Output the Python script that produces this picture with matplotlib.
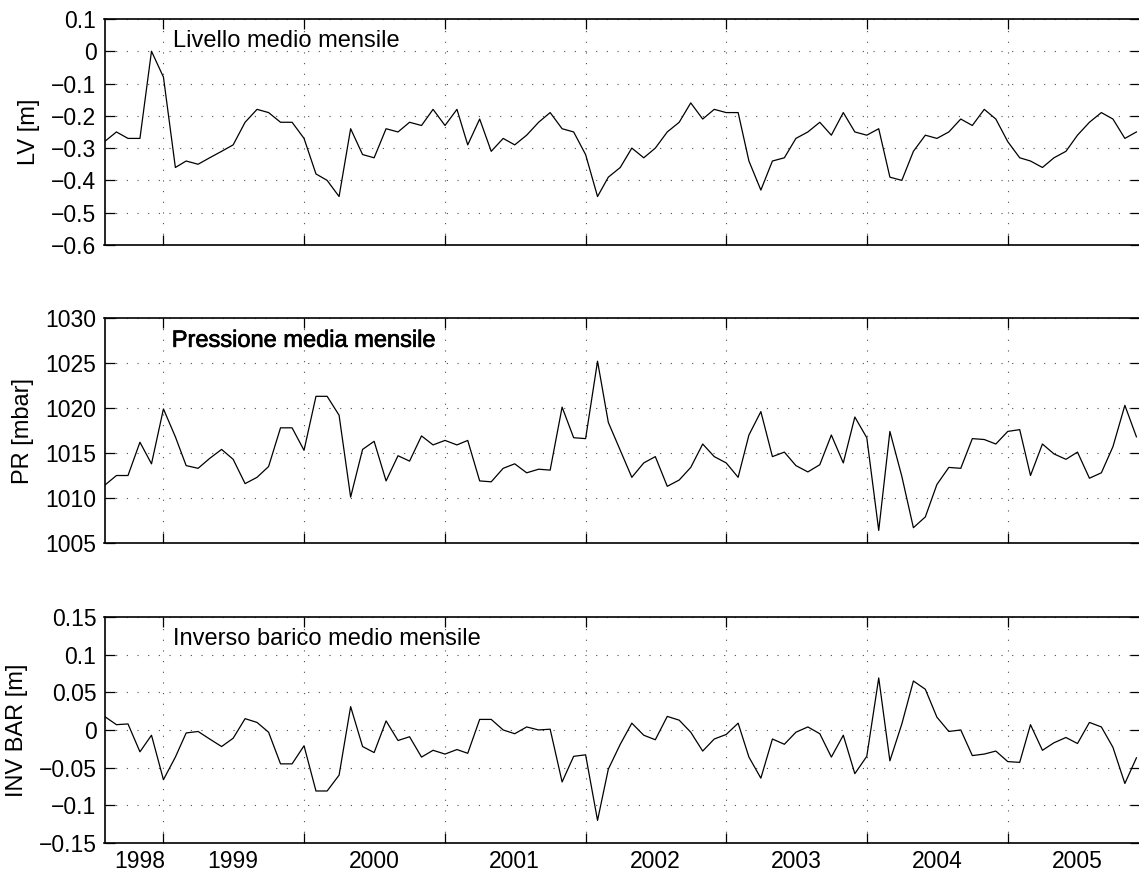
import numpy as np
import pandas as pd
import matplotlib
matplotlib.use("Agg")
import matplotlib.pyplot as plt
import matplotlib.dates as mdates
import matplotlib.ticker as mticker
import matplotlib.patheffects as pe

# Monthly series, August 1998 - December 2005
months = pd.date_range("1998-08-01", periods=89, freq="MS")

livello = [
    -0.28, -0.25, -0.27, -0.27, 0.00, -0.08, -0.36, -0.34, -0.35, -0.33,
    -0.31, -0.29, -0.22, -0.18, -0.19, -0.22, -0.22, -0.27, -0.38, -0.40,
    -0.45, -0.24, -0.32, -0.33, -0.24, -0.25, -0.22, -0.23, -0.18, -0.23,
    -0.18, -0.29, -0.21, -0.31, -0.27, -0.29, -0.26, -0.22, -0.19, -0.24,
    -0.25, -0.32, -0.45, -0.39, -0.36, -0.30, -0.33, -0.30, -0.25, -0.22,
    -0.16, -0.21, -0.18, -0.19, -0.19, -0.34, -0.43, -0.34, -0.33, -0.27,
    -0.25, -0.22, -0.26, -0.19, -0.25, -0.26, -0.24, -0.39, -0.40, -0.31,
    -0.26, -0.27, -0.25, -0.21, -0.23, -0.18, -0.21, -0.28, -0.33, -0.34,
    -0.36, -0.33, -0.31, -0.26, -0.22, -0.19, -0.21, -0.27, -0.25,
]

pressione = [
    1011.4, 1012.5, 1012.5, 1016.2, 1013.8, 1019.9, 1016.8, 1013.6, 1013.3, 1014.4,
    1015.4, 1014.3, 1011.6, 1012.3, 1013.5, 1017.8, 1017.8, 1015.3, 1021.3, 1021.3,
    1019.2, 1010.1, 1015.4, 1016.3, 1011.9, 1014.7, 1014.1, 1016.9, 1015.9, 1016.4,
    1015.9, 1016.4, 1011.9, 1011.8, 1013.3, 1013.8, 1012.8, 1013.2, 1013.1, 1020.1,
    1016.7, 1016.6, 1025.2, 1018.4, 1015.3, 1012.3, 1013.9, 1014.6, 1011.3, 1012.0,
    1013.4, 1016.0, 1014.6, 1013.9, 1012.3, 1017.0, 1019.6, 1014.6, 1015.1, 1013.6,
    1012.9, 1013.7, 1017.0, 1013.9, 1019.0, 1016.7, 1006.4, 1017.4, 1012.4, 1006.7,
    1007.9, 1011.5, 1013.4, 1013.3, 1016.6, 1016.5, 1016.0, 1017.4, 1017.6, 1012.5,
    1016.0, 1014.9, 1014.3, 1015.1, 1012.2, 1012.8, 1015.7, 1020.3, 1016.8,
]

inv_bar = [
    0.018, 0.007, 0.008, -0.029, -0.007, -0.066, -0.036, -0.004, -0.002, -0.012,
    -0.022, -0.011, 0.015, 0.010, -0.003, -0.045, -0.045, -0.021, -0.081, -0.081,
    -0.060, 0.031, -0.022, -0.030, 0.012, -0.014, -0.009, -0.036, -0.027, -0.032,
    -0.026, -0.031, 0.014, 0.014, 0.000, -0.005, 0.004, 0.000, 0.001, -0.069,
    -0.035, -0.033, -0.120, -0.052, -0.019, 0.009, -0.007, -0.013, 0.018, 0.013,
    -0.003, -0.028, -0.012, -0.006, 0.009, -0.036, -0.064, -0.012, -0.019, -0.003,
    0.004, -0.005, -0.036, -0.007, -0.058, -0.035, 0.069, -0.041, 0.008, 0.065,
    0.054, 0.017, -0.002, 0.000, -0.034, -0.032, -0.028, -0.042, -0.043, 0.007,
    -0.027, -0.017, -0.010, -0.018, 0.010, 0.004, -0.023, -0.071, -0.037,
]

year_labels = ["1998", "1999", "2000", "2001", "2002", "2003", "2004", "2005"]
year_label_dates = pd.to_datetime([
    "1998-11-01", "1999-07-01", "2000-07-01", "2001-07-01",
    "2002-07-01", "2003-07-01", "2004-07-01", "2005-07-01",
])

panels = [
    dict(values=livello, ylabel="LV [m]", note="Livello medio mensile",
         ylim=(-0.6, 0.1),
         yticks=[0.1, 0, -0.1, -0.2, -0.3, -0.4, -0.5, -0.6],
         label_x=-0.073, note_xy=(0.066, 0.877), bold=False),
    dict(values=pressione, ylabel="PR [mbar]", note="Pressione media mensile",
         ylim=(1005, 1030),
         yticks=[1030, 1025, 1020, 1015, 1010, 1005],
         label_x=-0.079, note_xy=(0.065, 0.872), bold=True),
    dict(values=inv_bar, ylabel="INV BAR [m]", note="Inverso barico medio mensile",
         ylim=(-0.15, 0.15),
         yticks=[0.15, 0.1, 0.05, 0, -0.05, -0.1, -0.15],
         label_x=-0.085, note_xy=(0.066, 0.876), bold=False),
]

plt.rcParams["font.family"] = ["Liberation Sans", "DejaVu Sans"]
plt.rcParams["axes.unicode_minus"] = True

fig = plt.figure(figsize=(11.39, 8.73), dpi=100)
fig.patch.set_facecolor("white")

left = 104.5 / 1139
width = (1139.5 - 104.5) / 1139
boxes = [(0.7194, 0.2589), (0.3780, 0.2577), (0.0344, 0.2589)]

xmin = pd.Timestamp("1998-08-01")
xmax = pd.Timestamp("2005-12-09")

TICK_FS = 16.5
NOTE_FS = 17
LABEL_FS = 17


def tick_text(v):
    s = f"{v:g}"
    return s.replace("-", "\u2212")


for k, (p, (b, h)) in enumerate(zip(panels, boxes)):
    ax = fig.add_axes([left, b, width, h])
    ax.plot(months, p["values"], color="black", linewidth=0.9)
    ax.set_xlim(xmin, xmax)
    ax.set_ylim(*p["ylim"])

    ax.set_yticks(p["yticks"])
    ax.set_yticklabels([tick_text(v) for v in p["yticks"]])

    ax.xaxis.set_major_locator(mdates.YearLocator(1, month=1, day=1))
    ax.xaxis.set_major_formatter(mticker.NullFormatter())
    if k == 2:
        ax.xaxis.set_minor_locator(mticker.FixedLocator(mdates.date2num(year_label_dates)))
        ax.xaxis.set_minor_formatter(mticker.FixedFormatter(year_labels))
    else:
        ax.xaxis.set_minor_locator(mticker.NullLocator())

    ax.tick_params(which="major", direction="in", top=True, right=True,
                   length=7, width=0.9, labelsize=TICK_FS, pad=5.8)
    ax.tick_params(axis="x", which="minor", length=0, labelsize=TICK_FS, pad=5.4)

    ax.grid(True, which="major", linestyle=(0, (1, 8.6)), color="0.3",
            linewidth=0.8)
    for sp in ax.spines.values():
        sp.set_linewidth(1.2)

    ax.set_ylabel(p["ylabel"], fontsize=LABEL_FS, va="center")
    ax.yaxis.set_label_coords(p["label_x"], 0.5)

    t = ax.text(p["note_xy"][0], p["note_xy"][1], p["note"], transform=ax.transAxes,
                fontsize=NOTE_FS, ha="left", va="baseline", color="black")
    if p["bold"]:
        t.set_path_effects([pe.withStroke(linewidth=0.5, foreground="black")])

fig.savefig("out.png", dpi=100, facecolor="white")
